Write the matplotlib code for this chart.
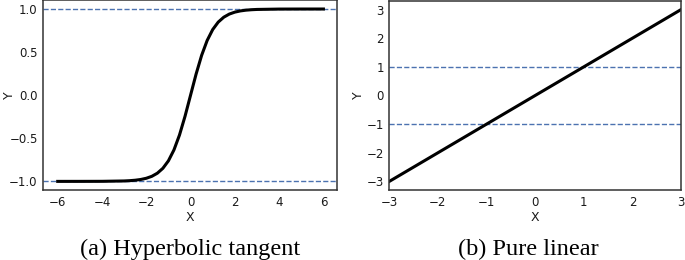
import matplotlib
matplotlib.use("Agg")
from matplotlib import pyplot as plt

# tanh curve, values
tanh_x = [-6, -5, -4, -3, -2.75, -2.5, -2.25, -2, -1.75, -1.5, -1.25, -1, -0.75, -0.5, -0.25,
          0, 0.25, 0.5, 0.75, 1, 1.25, 1.5, 1.75, 2, 2.25, 2.5, 2.75, 3, 4, 5, 6]
tanh_y = [-1.0, -0.9999, -0.9993, -0.9951, -0.9918, -0.9866, -0.9780, -0.9640, -0.9414, -0.9051,
          -0.8483, -0.7616, -0.6351, -0.4621, -0.2449,
          0.0, 0.2449, 0.4621, 0.6351, 0.7616, 0.8483, 0.9051, 0.9414, 0.9640, 0.9780, 0.9866,
          0.9918, 0.9951, 0.9993, 0.9999, 1.0]
tanh_ticks_x = [-6, -4, -2, 0, 2, 4, 6]
tanh_ticks_y = [-1.0, -0.5, 0.0, 0.5, 1.0]

# pure linear, right panel
lin_x = [-3, 3]
lin_y = [-3, 3]
lin_ticks = [-3, -2, -1, 0, 1, 2, 3]

bounds = [-1, 1]
captions = ['(a) Hyperbolic tangent', '(b) Pure linear']

plt.rcParams['font.family'] = ['DejaVu Sans']
W, H = 685, 260
fig = plt.figure(figsize=(W / 100, H / 100), dpi=100)

dash_col = '#4C72B0'
spine_col = '#333333'


def style(ax):
    for s in ax.spines.values():
        s.set_color(spine_col)
        s.set_linewidth(1.1)
    ax.tick_params(axis='x', length=0, labelsize=8.5, pad=4.5, colors='#1a1a1a')
    ax.tick_params(axis='y', length=0, labelsize=8.5, pad=4, colors='#1a1a1a')
    ax.set_xlabel('X', fontsize=9, labelpad=1.5, color='#1a1a1a')
    ax.set_ylabel('Y', fontsize=9, labelpad=1, color='#1a1a1a')


# left panel
ax1 = fig.add_axes([43.3 / W, 70 / H, 293.4 / W, 189.6 / H])
for b in bounds:
    ax1.axhline(b, color=dash_col, lw=1, ls='--')
ax1.plot(tanh_x, tanh_y, color='black', lw=2.2)
ax1.set_xticks(tanh_ticks_x)
ax1.set_yticks(tanh_ticks_y)
ax1.set_xlim(-6.65, 6.6)
ax1.set_ylim(-1.1, 1.1)
style(ax1)
# squeeze the Y label in just inside the left edge (beside the narrow "0.0")
ax1.yaxis.set_label_coords(-0.094, 0.5)

# right panel
ax2 = fig.add_axes([389.3 / W, 70 / H, 291.7 / W, 189 / H])
for b in bounds:
    ax2.axhline(b, color=dash_col, lw=1, ls='--')
ax2.plot(lin_x, lin_y, color='black', lw=2.2)
ax2.set_xticks(lin_ticks)
ax2.set_yticks(lin_ticks)
ax2.set_xlim(-3, 3)
ax2.set_ylim(-3.3, 3.3)
style(ax2)

fig.text(190 / W, 5 / H, captions[0], ha='center', va='baseline',
         fontsize=17.5, family='Liberation Serif')
fig.text(528 / W, 5 / H, captions[1], ha='center', va='baseline',
         fontsize=17.5, family='Liberation Serif')

fig.savefig('out.png', dpi=100)
